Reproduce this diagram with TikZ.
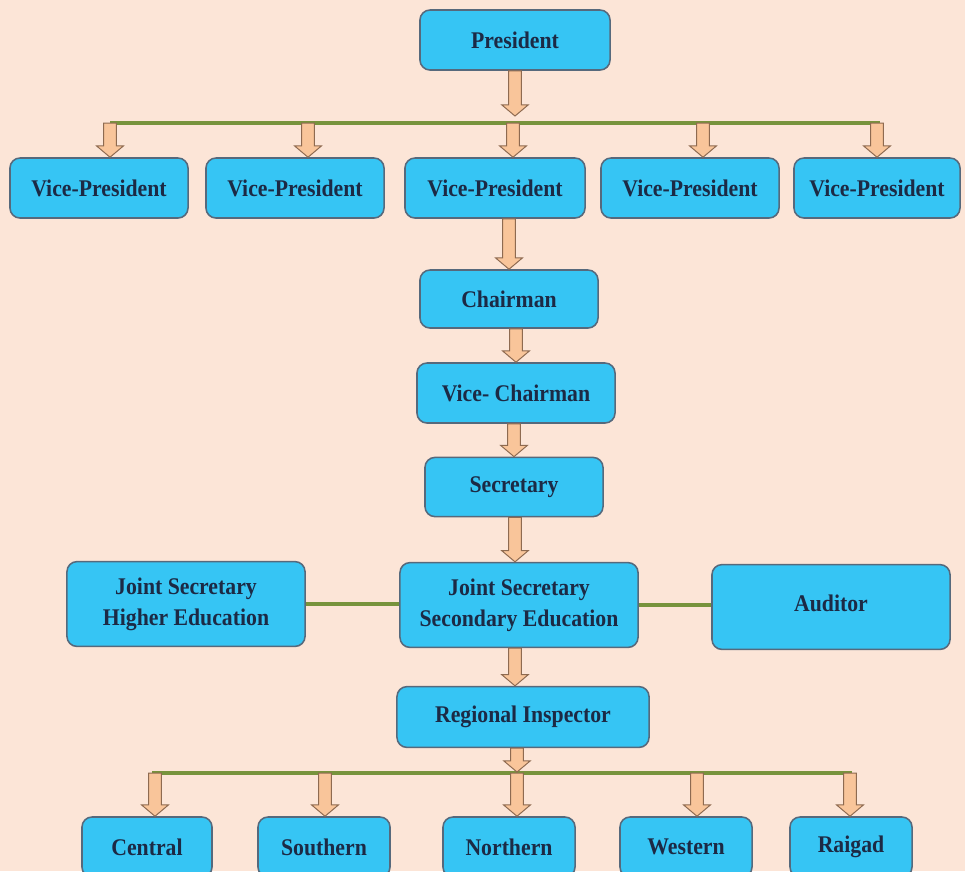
\documentclass[tikz,border=0pt]{standalone}
\usepackage{fontspec}
\setmainfont{Liberation Serif}[FakeStretch=0.91]
\usepackage{tikz}
\usetikzlibrary{positioning, calc}

\definecolor{bgpeach}{HTML}{FCE5D7}
\definecolor{boxfill}{HTML}{36C5F4}
\definecolor{boxline}{HTML}{56697C}
\definecolor{boxtext}{HTML}{1C2A45}
\definecolor{busgreen}{HTML}{77933C}
\definecolor{arrfill}{HTML}{F9C59A}
\definecolor{arrline}{HTML}{8E6A50}

\tikzset{
  box/.style={rounded corners=0.25cm, draw=boxline, line width=1.1pt, fill=boxfill,
    text=boxtext, font=\bfseries\fontsize{17}{22}\selectfont, align=center,
    minimum height=1.5cm, inner sep=2pt},
  bigbox/.style={box, minimum width=5.95cm, minimum height=2.12cm},
  bus/.style={busgreen, line width=2.8pt},
  blockarrow/.style={fill=arrfill, draw=arrline, line width=0.7pt, line join=miter}
}

% block arrow from #1 straight down to the height of #2
\newcommand{\blockarr}[2]{%
  \path[blockarrow] let \p1=(#1), \p2=(#2) in
    (\x1-4.5pt,\y1) -- (\x1-4.5pt,\y2+8pt) -- (\x1-9.5pt,\y2+8pt) -- (\x1,\y2)
    -- (\x1+9.5pt,\y2+8pt) -- (\x1+4.5pt,\y2+8pt) -- (\x1+4.5pt,\y1) -- cycle;}

\begin{document}
\begin{tikzpicture}[x=0.025cm, y=-0.025cm]
  \path[use as bounding box, fill=bgpeach] (0,0) rectangle (965,871);
  \clip (0,0) rectangle (965,871);

  % Nodes
  \node[box, minimum width=4.75cm] (pres) at (515,40) {President};
  \foreach \i/\x/\w in {1/99/4.45, 2/295/4.45, 3/495/4.5, 4/690/4.45, 5/877/4.15}
    \node[box, minimum width=\w cm] (vp\i) at (\x,188) {Vice-President};
  \node[box, minimum width=4.45cm, minimum height=1.45cm] (chair) at (509,299) {Chairman};
  \node[box, minimum width=4.95cm] (vchair) at (516,393) {Vice- Chairman};
  \node[box, minimum width=4.45cm, minimum height=1.48cm] (secr) at (514,487) {Secretary};
  \node[bigbox] (jssec) at (519,605) {Joint Secretary\\Secondary Education};
  \node[bigbox] (jshigh) at (186,604) {Joint Secretary\\Higher Education};
  \node[bigbox] (audit) at (831,607) {\raisebox{5pt}{Auditor}};
  \node[box, minimum width=6.3cm, minimum height=1.52cm] (rinsp) at (523,717) {Regional Inspector};
  \foreach \k/\t/\x/\w in {central/Central/147/3.25, southern/Southern/324/3.3,
      northern/Northern/509/3.3, western/Western/686/3.3, raigad/Raigad/851/3.05}
    \node[box, minimum width=\w cm] (\k) at (\x,847) {\t};

  % Lines
  \coordinate (tbl) at (110,123);
  \coordinate (tbr) at (880,123);
  \draw[bus] (tbl) -- (tbr);
  \draw[bus] (jshigh.east) -- (jshigh.east -| jssec.west);
  \draw[bus] (jssec.east) -- (jssec.east -| audit.west);
  \coordinate (bbl) at (152,773);
  \coordinate (bbr) at (852,773);
  \draw[bus] (bbl) -- (bbr);

  % Arrows
  \blockarr{pres.south}{$(tbl)+(0,-7)$}
  \foreach \i/\x in {1/110, 2/308, 3/513, 4/703, 5/877} {
    \coordinate (tb\i) at (\x,123);
    \blockarr{tb\i}{tb\i |- vp\i.north}
  }
  \blockarr{chair.north |- vp3.south}{chair.north}
  \blockarr{vchair.north |- chair.south}{vchair.north}
  \blockarr{secr.north |- vchair.south}{secr.north}
  \blockarr{$(jssec.north |- secr.south)+(-4,0)$}{jssec.north}
  \blockarr{$(rinsp.north |- jssec.south)+(-8,0)$}{rinsp.north}
  \blockarr{$(rinsp.south)+(-6,0)$}{$(bbl)+(0,-1)$}
  \foreach \k/\x in {central/155, southern/325, northern/517, western/697, raigad/850} {
    \coordinate (bb\k) at (\x,773);
    \blockarr{bb\k}{bb\k |- \k.north}
  }
\end{tikzpicture}
\end{document}
